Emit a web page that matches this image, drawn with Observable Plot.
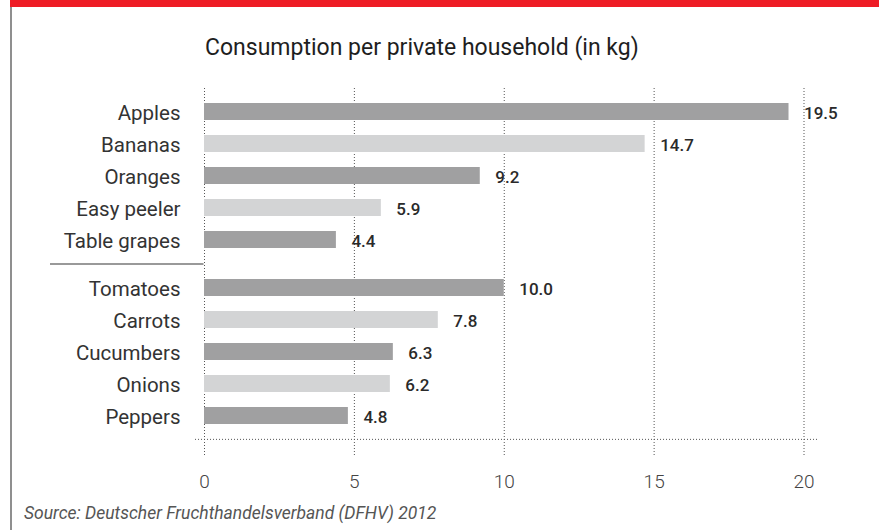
<!DOCTYPE html>
<html>
<head>
<meta charset="utf-8">
<script src="https://cdn.jsdelivr.net/npm/d3@7"></script>
<script src="https://cdn.jsdelivr.net/npm/@observablehq/plot@0.6"></script>
<style>
  html, body { margin: 0; padding: 0; background: #fff; }
  #page { position: relative; width: 879px; height: 530px; overflow: hidden; background: #fff; font-family: Roboto, "DejaVu Sans", sans-serif; }
  #redbar { position: absolute; left: 10px; top: 0; width: 869px; height: 7px; background: #ee1c25; }
  #border { position: absolute; left: 10px; top: 7px; width: 2px; height: 523px; background: #8f8f8f; }
  #title { position: absolute; left: 205px; top: 36px; font-size: 23px; line-height: 23px; color: #1e1e1e; font-weight: 400; white-space: nowrap; }
  #chart { position: absolute; left: 0; top: 80px; }
  #source { position: absolute; left: 24px; top: 505px; font-size: 17.5px; line-height: 17.5px; font-style: italic; color: #555; white-space: nowrap; }
  #chart svg [aria-label^="x-axis"] text { fill: #444; font-weight: 300; }
</style>
</head>
<body>
<div id="page">
  <div id="redbar"></div>
  <div id="border"></div>
  <div id="title"></div>
  <div id="chart"></div>
  <div id="source"></div>
</div>
<script>
const titleText = "Consumption per private household (in kg)";
const sourceText = "Source: Deutscher Fruchthandelsverband (DFHV) 2012";

const fruits = ["Apples", "Bananas", "Oranges", "Easy peeler", "Table grapes"];
const fruitValues = [19.5, 14.7, 9.2, 5.9, 4.4];
const vegetables = ["Tomatoes", "Carrots", "Cucumbers", "Onions", "Peppers"];
const vegetableValues = [10.0, 7.8, 6.3, 6.2, 4.8];
const xTicks = [0, 5, 10, 15, 20];

// layout
const groupGap = 0.5;
const rows = [
  ...fruits.map((name, i) => ({name, value: fruitValues[i], i, slot: i})),
  ...vegetables.map((name, i) => ({name, value: vegetableValues[i], i, slot: fruits.length + groupGap + i}))
];
const lastSlot = rows[rows.length - 1].slot;
const separatorSlot = fruits.length - 1 + (1 + groupGap) / 2;
const baselineSlot = lastSlot + 0.73;

document.getElementById("title").textContent = titleText;
document.getElementById("source").textContent = sourceText;

const dark = "#a0a0a1", light = "#d3d4d5";

const chart = Plot.plot({
  width: 879,
  height: 420,
  marginLeft: 204,
  marginRight: 75.5,
  marginTop: 8,
  marginBottom: 45,
  style: {fontFamily: "Roboto, 'DejaVu Sans', sans-serif", fontSize: "19px", background: "transparent", overflow: "visible"},
  x: {domain: [0, 20], ticks: xTicks, tickSize: 0, tickPadding: 19, label: null, axis: "bottom"},
  y: {type: "linear", domain: [0, lastSlot], range: [31.5, 335.5], axis: null},
  marks: [
    Plot.ruleX(xTicks, {stroke: "#555", strokeWidth: 1, strokeDasharray: "1,2"}),
    Plot.ruleY([baselineSlot], {stroke: "#555", strokeWidth: 1, strokeDasharray: "1,2", insetLeft: -9, insetRight: -15}),
    Plot.ruleY([separatorSlot], {stroke: "#777", strokeWidth: 1.5, insetLeft: -154, insetRight: 600}),
    Plot.rect(rows, {
      x1: 0, x2: "value",
      y1: d => d.slot - 0.5, y2: d => d.slot + 0.5,
      insetTop: 7.5, insetBottom: 7.5,
      fill: d => d.i % 2 === 0 ? dark : light
    }),
    Plot.text(rows, {
      y: "slot", text: "name", frameAnchor: "left", textAnchor: "end", dx: -24, dy: 1,
      fontSize: 20.5, fill: "#333"
    }),
    Plot.text(rows, {
      x: "value", y: "slot", text: d => d.value.toFixed(1), textAnchor: "start", dx: 15, dy: 2,
      fontSize: 17, fontWeight: 500, fill: "#2a2a2a"
    })
  ]
});
document.getElementById("chart").appendChild(chart);
</script>
</body>
</html>
